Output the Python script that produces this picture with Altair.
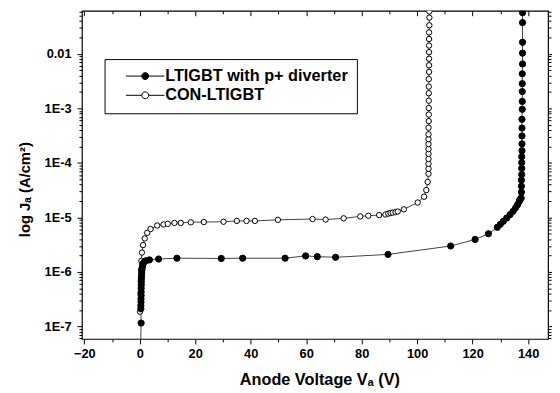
import altair as alt
import pandas as pd

FONT = "Liberation Sans"

series_names = ["LTIGBT with p+ diverter", "CON-LTIGBT"]

# LTIGBT with p+ diverter (filled circles)
div_x = [0.0, 0.5, 0.4, 0.4, 0.45, 0.45, 0.5, 0.5, 0.5, 0.55, 0.55, 0.6, 0.65, 0.7, 0.8, 0.9,
         1.0, 1.2, 1.6, 2.3, 3.5, 6.8, 13.4, 29.4, 37.1, 52.4, 59.8, 64.0, 70.6, 89.5,
         112.1, 120.9, 125.7, 128.9, 130.0, 131.1, 132.3, 133.5, 134.6, 135.5, 136.2, 136.8, 137.0,
         137.5, 137.6, 137.6, 137.6, 137.7, 137.7, 137.7, 137.7, 137.8, 137.8, 137.8, 137.8,
         137.8, 137.9, 137.9, 137.9, 137.9, 137.9, 138.0, 138.0, 138.0, 138.0, 138.0]
div_y = [1e-8, 1.15e-7, 2.1e-7, 2.4e-7, 2.8e-7, 3.2e-7, 3.7e-7, 4.3e-7, 5.0e-7, 5.8e-7, 6.6e-7, 7.5e-7,
         8.5e-7, 9.6e-7, 1.08e-6, 1.2e-6, 1.32e-6, 1.42e-6, 1.52e-6, 1.6e-6, 1.66e-6, 1.72e-6,
         1.78e-6, 1.76e-6, 1.78e-6, 1.78e-6, 1.96e-6, 1.9e-6, 1.85e-6, 2.09e-6,
         2.98e-6, 3.93e-6, 5.0e-6, 6.56e-6, 7.47e-6, 8.5e-6, 9.75e-6, 1.12e-5, 1.29e-5, 1.5e-5,
         1.7e-5, 1.95e-5, 2.09e-5,
         2.26e-5, 2.9e-5, 3.72e-5, 4.8e-5, 6.1e-5, 7.9e-5, 1.01e-4, 1.30e-4, 1.67e-4, 2.23e-4,
         3.12e-4, 4.35e-4, 6.3e-4, 9.6e-4, 1.34e-3, 2.03e-3, 2.83e-3, 4.30e-3, 6.52e-3, 1.03e-2,
         1.63e-2, 3.74e-2, 5.68e-2]

# CON-LTIGBT (open circles)
con_x = [0.1, 0.3, 0.4, 0.5, 0.6, 0.8, 1.2, 1.8, 2.7, 3.9, 6.3, 8.6, 10.1, 12.5, 14.8, 18.4,
         23.1, 30.2, 35.0, 38.5, 41.5, 49.8, 62.3, 67.0, 73.5, 79.5, 82.4, 86.3, 88.6, 89.6,
         90.4, 91.2, 92.2, 93.0, 95.2, 100.2, 102.5, 103.3, 103.8,
         104.1, 104.1, 104.1, 104.1, 104.1, 104.1, 104.1, 104.1, 104.1, 104.1, 104.2, 104.2,
         104.2, 104.2, 104.2, 104.2, 104.2, 104.3, 104.3, 104.3, 104.3, 104.3, 104.3, 104.3,
         104.4, 104.4, 104.4]
con_y = [1.86e-7, 4.0e-7, 7.0e-7, 1.1e-6, 1.6e-6, 2.26e-6, 3.1e-6, 4.1e-6, 5.2e-6, 6.1e-6,
         7.07e-6, 7.4e-6, 7.6e-6, 7.9e-6, 7.9e-6, 8.1e-6, 8.2e-6, 8.3e-6, 8.6e-6, 8.6e-6, 8.6e-6,
         9.0e-6, 9.3e-6, 9.1e-6, 9.6e-6, 1.04e-5, 1.07e-5, 1.1e-5, 1.13e-5, 1.17e-5, 1.2e-5,
         1.22e-5, 1.25e-5, 1.28e-5, 1.4e-5, 1.87e-5, 2.39e-5, 3.16e-5, 4.46e-5,
         6.3e-5, 7.8e-5, 9.6e-5, 1.18e-4, 1.46e-4, 1.79e-4, 2.21e-4, 2.72e-4, 3.34e-4, 4.41e-4,
         5.82e-4, 7.69e-4, 1.01e-3, 1.38e-3, 1.89e-3, 2.50e-3, 3.44e-3, 4.67e-3, 6.17e-3,
         8.13e-3, 1.074e-2, 1.418e-2, 1.87e-2, 2.47e-2, 3.34e-2, 4.61e-2, 6.0e-2]

x_major = [-20, 0, 20, 40, 60, 80, 100, 120, 140]
x_minor = [-10, 10, 30, 50, 70, 90, 110, 130]
y_major = [1e-7, 1e-6, 1e-5, 1e-4, 1e-3, 1e-2]
y_minor = [k * 10.0 ** n for n in range(-8, -1) for k in range(2, 10)]
y_minor = [v for v in y_minor if 5.87e-8 <= v <= 0.0616]

rows = []
for i, (xv, yv) in enumerate(zip(div_x, div_y)):
    rows.append({"x": xv, "y": yv, "series": series_names[0], "idx": i})
for i, (xv, yv) in enumerate(zip(con_x, con_y)):
    rows.append({"x": xv, "y": yv, "series": series_names[1], "idx": i})
df = pd.DataFrame(rows)

xs = alt.Scale(domain=[-20.85, 147.2], nice=False, zero=False)
ys = alt.Scale(type="log", domain=[5.87e-8, 0.0616], nice=False)

common = dict(domain=False, grid=False, tickColor="black", tickWidth=1,
              labelFont=FONT, labelFontSize=13, labelFontWeight="bold", labelColor="black",
              titleFont=FONT, titleFontWeight="bold", titleColor="black")


def ghost_axis(orient, values, size, offset=0):
    return alt.Axis(orient=orient, values=values, tickSize=size, offset=offset,
                    labels=False, title=None, domain=False, grid=False,
                    tickColor="black", tickWidth=1)


base = alt.Chart(df)

lines = base.mark_line(color="#111111", strokeWidth=0.8, clip=True).encode(
    x=alt.X("x:Q", scale=xs, axis=alt.Axis(
        orient="bottom", values=x_major, tickSize=5, labelPadding=4, format="d",
        labelFlush=False, title="Anode Voltage Vₐ (V)", titleFontSize=16.5,
        titleX=241, titleAlign="center", titleY=46, titleBaseline="alphabetic", **common)),
    y=alt.Y("y:Q", scale=ys, axis=alt.Axis(
        orient="left", values=y_major, tickSize=5, labelPadding=6,
        labelExpr="datum.value > 0.005 ? '0.01' : '1E' + round(log(datum.value) / LN10)",
        title="log Jₐ (A/cm²)", titleFontSize=15, titleX=-53, titleY=181,
        titleAngle=270, titleAlign="center", titleBaseline="alphabetic", **common)),
    detail="series:N",
    order="idx:Q",
)

LEGEND_PATH = "M-5.57,0H-1M1,0H5.57M-1,0A1,1,0,1,0,1,0A1,1,0,1,0,-1,0Z"

legend = alt.Legend(
    title=None, orient="none", legendX=23, legendY=49, direction="vertical",
    symbolType=LEGEND_PATH, symbolSize=49, symbolStrokeColor="black",
    symbolStrokeWidth=1, symbolOffset=24, labelOffset=12,
    labelFont=FONT, labelFontSize=16.5, labelFontWeight="bold",
    labelColor="black", labelLimit=500,
    strokeColor="black", fillColor="white", padding=9, rowPadding=2.5)

fill_enc = alt.Fill("series:N", scale=alt.Scale(domain=series_names, range=["black", "white"]),
                    legend=legend)

pts_con = base.transform_filter(alt.datum.series == series_names[1]).mark_circle(
    stroke="black", strokeWidth=1, opacity=1, size=30, clip=True).encode(
    x=alt.X("x:Q", scale=xs, axis=None),
    y=alt.Y("y:Q", scale=ys, axis=None),
    fill=fill_enc,
)
pts_div = base.transform_filter(alt.datum.series == series_names[0]).mark_circle(
    stroke="black", strokeWidth=1, opacity=1, size=40, clip=True).encode(
    x=alt.X("x:Q", scale=xs, axis=None),
    y=alt.Y("y:Q", scale=ys, axis=None),
    fill=fill_enc,
)

ghost = base.mark_point(opacity=0)
g1 = ghost.encode(x=alt.X("x:Q", scale=xs, axis=ghost_axis("bottom", x_minor, 3)),
                  y=alt.Y("y:Q", scale=ys, axis=ghost_axis("left", y_minor, 3)))
g2 = ghost.encode(x=alt.X("x:Q", scale=xs, axis=ghost_axis("top", x_major, 5, -5)),
                  y=alt.Y("y:Q", scale=ys, axis=ghost_axis("right", y_major, 5)))
g3 = ghost.encode(x=alt.X("x:Q", scale=xs, axis=ghost_axis("top", x_minor, 3, -3)),
                  y=alt.Y("y:Q", scale=ys, axis=ghost_axis("right", y_minor, 3)))

chart = alt.layer(lines, g1, g2, g3, pts_con, pts_div).resolve_axis(
    x="independent", y="independent"
).properties(
    width=473, height=333,
    autosize=alt.AutoSizeParams(type="none"),
    padding={"left": 75, "top": 0, "right": 4, "bottom": 52},
    background="white",
).configure_view(stroke="black", strokeWidth=1.2)

chart.save("out.html", embed_options={"renderer": "svg", "actions": False})
